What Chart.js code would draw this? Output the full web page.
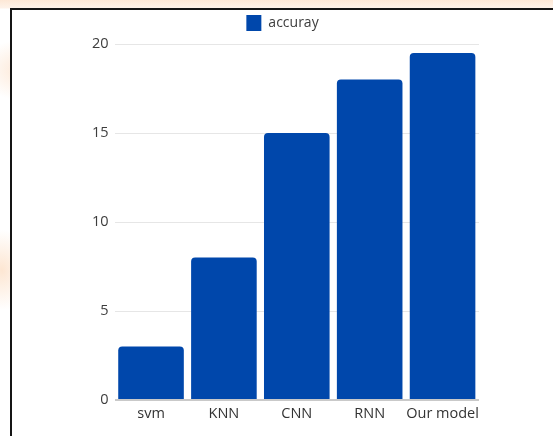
<!DOCTYPE html>
<html>
<head>
<meta charset="utf-8">
<script src="https://cdn.jsdelivr.net/npm/chart.js@4.4.1/dist/chart.umd.min.js"></script>
<style>
  html, body { margin: 0; padding: 0; }
  body {
    width: 553px; height: 436px; overflow: hidden; position: relative;
    background:
      radial-gradient(ellipse 30px 40px at 2px 270px, #fde6d2 0%, rgba(253,230,210,0) 100%),
      radial-gradient(ellipse 40px 30px at 20px 70px, #fde9d8 0%, rgba(253,233,216,0) 100%),
      linear-gradient(to bottom, #fde8d6 0px, #fef3ea 8px, #ffffff 9px),
      #ffffff;
  }
  #panel {
    position: absolute; left: 10px; top: 8px; width: 560px; height: 450px;
    background: #ffffff; border: 2px solid #151515; box-sizing: border-box;
  }
  #wrap { position: absolute; left: 0; top: 0; width: 553px; height: 436px; }
</style>
</head>
<body>
<div id="panel"></div>
<div id="wrap"><canvas id="chart"></canvas></div>
<script>
const categories = ['svm', 'KNN', 'CNN', 'RNN', 'Our model'];
const accuracy = [3, 8, 15, 18, 19.5];
const yTicks = [0, 5, 10, 15, 20];
const seriesName = 'accuray';

// Leave a little extra room between the legend and the plot area
const legendGap = {
  id: 'legendGap',
  beforeInit(chart) {
    const fit = chart.legend.fit;
    chart.legend.fit = function () {
      fit.bind(chart.legend)();
      this.height += 3;
    };
  }
};

new Chart(document.getElementById('chart'), {
  type: 'bar',
  data: {
    labels: categories,
    datasets: [{
      label: seriesName,
      data: accuracy,
      backgroundColor: '#0047ab',
      borderWidth: 0,
      borderRadius: { topLeft: 4, topRight: 4, bottomLeft: 0, bottomRight: 0 },
      borderSkipped: 'bottom',
      barPercentage: 0.9,
      categoryPercentage: 1.0
    }]
  },
  options: {
    responsive: true,
    maintainAspectRatio: false,
    animation: false,
    devicePixelRatio: 1,
    layout: { padding: { left: 86, right: 74, top: 3, bottom: 12 } },
    plugins: {
      tooltip: { enabled: false },
      legend: {
        display: true,
        position: 'top',
        labels: {
          boxWidth: 15,
          boxHeight: 16,
          padding: 12,
          color: '#3d3d3d',
          font: { family: 'Open Sans', size: 14 }
        }
      }
    },
    scales: {
      x: {
        afterFit: (scale) => { scale.height = 24; },
        grid: { display: false },
        border: { display: false },
        ticks: {
          color: '#333333',
          padding: -3,
          maxRotation: 0,
          minRotation: 0,
          autoSkip: false,
          font: { family: 'Open Sans', size: 14.5 }
        }
      },
      y: {
        min: 0,
        max: 20,
        afterBuildTicks: (axis) => { axis.ticks = yTicks.map(v => ({ value: v })); },
        grid: {
          color: (ctx) => ctx.tick && ctx.tick.value === 0 ? '#c9c9c9' : '#e6e6e6',
          lineWidth: (ctx) => ctx.tick && ctx.tick.value === 0 ? 2 : 1,
          drawTicks: false
        },
        border: { display: false },
        ticks: {
          color: '#3d3d3d',
          padding: 6,
          font: { family: 'Open Sans', size: 14.5 }
        }
      }
    }
  },
  plugins: [legendGap]
});
</script>
</body>
</html>
